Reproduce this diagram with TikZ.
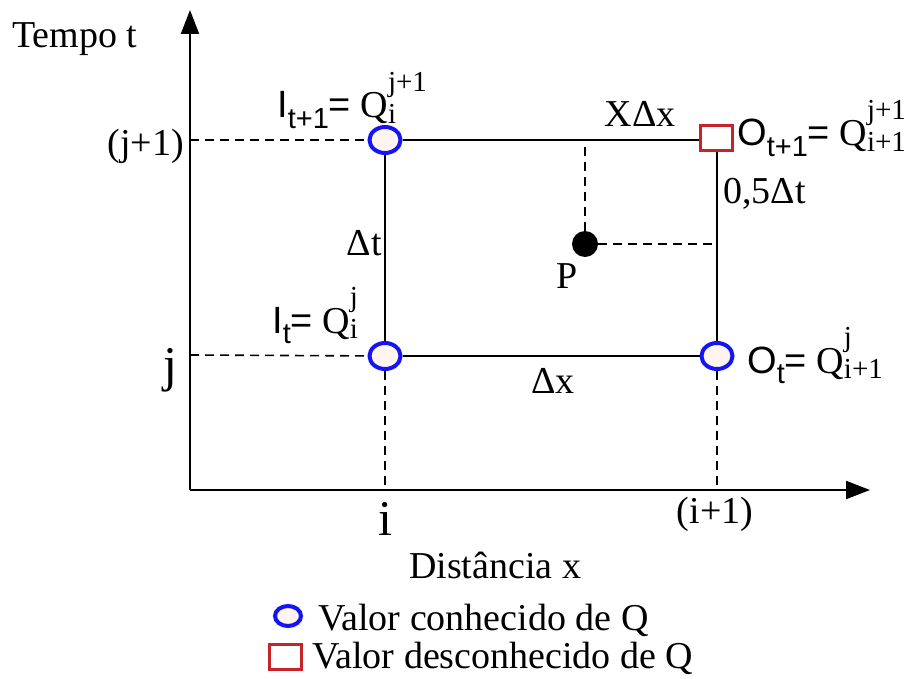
\documentclass[tikz,border=0pt]{standalone}
\usepackage{fontspec}
\setmainfont{Liberation Serif}
\setsansfont{Liberation Sans}
\usetikzlibrary{arrows.meta,shapes.geometric}
\definecolor{knownfill}{RGB}{255,245,238}
\definecolor{knownblue}{RGB}{20,20,245}
\definecolor{unkred}{RGB}{200,35,40}
\newsavebox\ssboxa
\newsavebox\ssboxb
\newlength\sslen
\newcommand{\SubSup}[2]{{\fontsize{29}{31}\selectfont
 \sbox\ssboxa{#1}\sbox\ssboxb{#2}%
 \sslen=\wd\ssboxa \ifdim\wd\ssboxb>\sslen \sslen=\wd\ssboxb \fi
 \rlap{\raisebox{-0.2em}{\usebox\ssboxa}}\rlap{\raisebox{0.9em}{\usebox\ssboxb}}\hspace*{\sslen}}}
\newcommand{\SfSub}[1]{\raisebox{-0.28em}{\fontsize{29}{31}\selectfont #1}}
\begin{document}
\begin{tikzpicture}[x=1pt,y=-1pt,
  txt/.style={inner sep=0pt,font=\fontsize{38}{42}\selectfont},
  bigtxt/.style={inner sep=0pt,font=\fontsize{50}{54}\selectfont},
  known/.style={ellipse,draw=knownblue,line width=4pt,fill=knownfill,inner sep=0pt,minimum width=31pt,minimum height=26pt},
  knownsmall/.style={ellipse,draw=knownblue,line width=4pt,fill=knownfill,inner sep=0pt,minimum width=26pt,minimum height=20pt},
  unknown/.style={rectangle,draw=unkred,line width=3pt,fill=white,inner sep=0pt,minimum width=32pt,minimum height=25pt},
  grid line/.style={line width=2pt},
  guide/.style={line width=1.6pt,dash pattern=on 9pt off 6pt},
  axis/.style={line width=2pt,-{Triangle[length=24pt,width=18pt]}}]
\useasboundingbox (0,0) rectangle (915,679);
% axes
\coordinate (O) at (190,490);
\coordinate (ytop) at (190,10);
\coordinate (xend) at (870,490);
\draw[axis] (O) -- (ytop);
\draw[axis] (O) -- (xend);
% axis foot points of guides
\coordinate (yj1) at (190,140);
\coordinate (yj) at (190,355);
\coordinate (xi) at (385,490);
\coordinate (xi1) at (717,490);
% nodes
\node[known] (tl) at (385,140) {};
\node[known] (bl) at (385,356) {};
\node[known] (br) at (717,356) {};
\node[unknown] (tr) at (716,138) {};
\coordinate (ptop) at (585,140);
\coordinate (pright) at (717,244);
% guides
\draw[guide] (yj1) -- (tl);
\draw[guide] (yj) -- (bl);
\draw[guide] (bl) -- (xi);
\draw[guide] (br) -- (xi1);
% grid
\draw[grid line] (tl.east) -- (tl.east -| tr.west);
\draw[grid line] (tr.south -| br.north) -- (br.north);
\draw[grid line] (br.west) -- (bl.east);
\draw[grid line] (bl.north) -- (tl.south);
% point P
\node[circle,fill=black,inner sep=0pt,minimum size=26pt] (P) at (585,244) {};
\draw[guide] (P.north) -- (ptop);
\draw[guide] (P.east) -- (pright);
% labels
\node[txt,anchor=base west] (tempo) at (12,48) {Tempo t};
\node[txt,anchor=east] (lj1) at (184,146) {(j+1)};
\node[bigtxt,anchor=base] (lj) at (170,381) {j};
\node[bigtxt,anchor=base] (li) at (385,535) {i};
\node[txt] (li1) at (715,514) {(i+1)};
\node[txt] (dist) at (495,565) {Distância x};
\node[txt,anchor=base east] (dt) at (382,255) {Δt};
\node[txt,anchor=base] (dx) at (553,393) {Δx};
\node[txt,anchor=base] (xdx) at (640,127) {XΔx};
\node[txt,anchor=base west] (hdt) at (723,204) {0,5Δt};
\node[txt,anchor=base] (lp) at (567,288) {P};
\node[txt,anchor=base west] (lIt1) at (277,118) {{\sffamily I\SfSub{t+1}=} Q\SubSup{i}{j+1}};
\node[txt,anchor=base west] (lIt) at (272,333) {{\sffamily I\SfSub{t}=} Q\SubSup{i}{j}};
\node[txt,anchor=base west] (lOt1) at (737,146) {{\sffamily O\SfSub{t+1}=} Q\SubSup{i+1}{j+1}};
\node[txt,anchor=base west] (lOt) at (747,373) {{\sffamily O\SfSub{t}=} Q\SubSup{i+1}{j}};
% legend
\node[knownsmall] (legk) at (288,616) {};
\node[txt,anchor=base west] (legkt) at (318,630) {Valor conhecido de Q};
\node[unknown] (legu) at (285,657) {};
\node[txt,anchor=base west] (legut) at (312,668) {Valor desconhecido de Q};
\end{tikzpicture}
\end{document}
